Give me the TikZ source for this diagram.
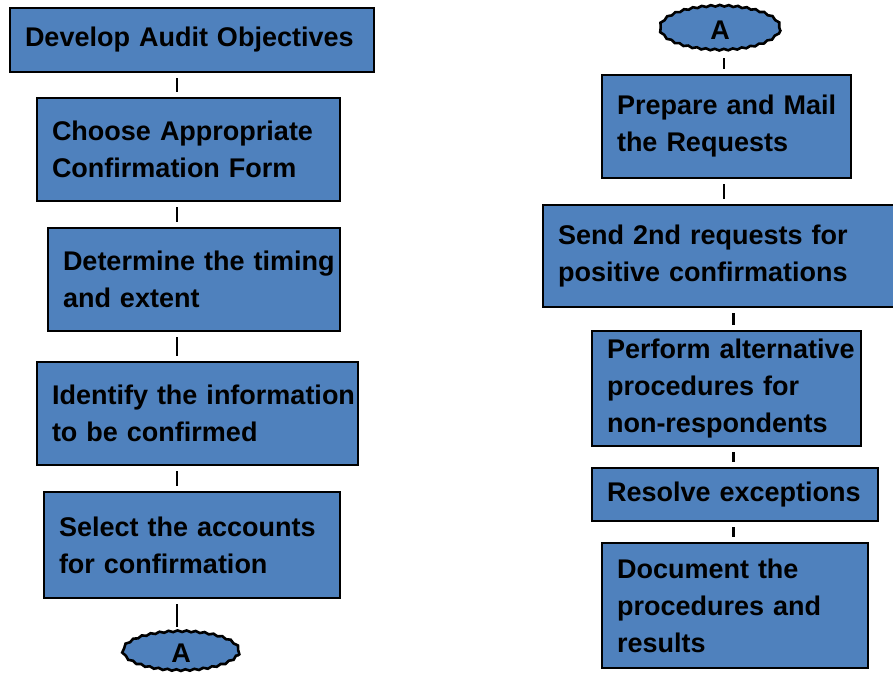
\documentclass[tikz,border=0pt]{standalone}
\usepackage{fontspec}
\setmainfont{Liberation Sans}
\usetikzlibrary{shapes.geometric,decorations.pathmorphing}
\definecolor{boxblue}{RGB}{79,129,189}
\begin{document}
\begin{tikzpicture}[x=1pt,y=-1pt,
  stepbox/.style={draw=black, line width=2.5pt, fill=boxblue, inner xsep=15pt, inner ysep=0pt,
    align=left, font=\bfseries\fontsize{27}{37}\selectfont, anchor=center},
  connA/.style={ellipse, draw=black, line width=2.6pt, fill=boxblue, inner sep=0pt,
    font=\bfseries\fontsize{27}{32}\selectfont, decorate,
    decoration={snake, segment length=9pt, amplitude=0.8pt}},
  link/.style={draw=black, line width=2pt, shorten >=5pt, shorten <=5pt},
  linkb/.style={link, line width=3pt}
]
\useasboundingbox (0,0) rectangle (893,673);
% helper x positions of the connectors
\coordinate (L) at (177,0);
\coordinate (R1) at (724,0);
\coordinate (R2) at (733,0);

% left column
\node[stepbox, text width=334pt, minimum height=64pt] (b1) at (192,40)
  {\mbox{Develop Audit Objectives}};
\node[stepbox, text width=273pt, minimum height=103pt] (b2) at (188.5,149.5)
  {\mbox{Choose Appropriate}\\\mbox{Confirmation Form}};
\node[stepbox, text width=262pt, minimum height=103pt] (b3) at (194,279.5)
  {\mbox{Determine the timing}\\\mbox{and extent}};
\node[stepbox, text width=291pt, minimum height=103pt] (b4) at (197.5,413.5)
  {\mbox{Identify the information}\\\mbox{to be confirmed}};
\node[stepbox, text width=266pt, minimum height=106pt] (b5) at (192,545)
  {\mbox{Select the accounts}\\\mbox{for confirmation}};
\node[connA, minimum width=116pt, minimum height=39pt] (a1) at (181,653) {A};

% right column
\node[connA, minimum width=120pt, minimum height=44pt] (a2) at (720,30) {A};
\node[stepbox, text width=219pt, minimum height=103pt] (b6) at (726.5,126.5)
  {\mbox{Prepare and Mail}\\\mbox{the Requests}};
\node[stepbox, text width=325pt, minimum height=102pt] (b7) at (720.5,256)
  {\mbox{Send 2nd requests for}\\\mbox{positive confirmations}};
\node[stepbox, text width=239pt, minimum height=115pt] (b8) at (726.5,388.5)
  {\mbox{Perform alternative}\\\mbox{procedures for}\\\mbox{non-respondents}};
\node[stepbox, text width=256pt, minimum height=53pt] (b9) at (735,494.5)
  {\mbox{Resolve exceptions}};
\node[stepbox, text width=236pt, minimum height=125pt] (b10) at (735,605.5)
  {\mbox{Document the}\\\mbox{procedures and}\\\mbox{results}};

% connectors
\draw[link] (b1.south -| L) -- (b2.north -| L);
\draw[link] (b2.south -| L) -- (b3.north -| L);
\draw[link] (b3.south -| L) -- (b4.north -| L);
\draw[link] (b4.south -| L) -- (b5.north -| L);
\draw[link] (b5.south -| L) -- (a1.north -| L);

\draw[link] (a2.south -| R1) -- (b6.north -| R1);
\draw[link] (b6.south -| R1) -- (b7.north -| R1);
\draw[linkb] (b7.south -| R2) -- (b8.north -| R2);
\draw[linkb] (b8.south -| R2) -- (b9.north -| R2);
\draw[linkb] (b9.south -| R2) -- (b10.north -| R2);
\end{tikzpicture}
\end{document}
